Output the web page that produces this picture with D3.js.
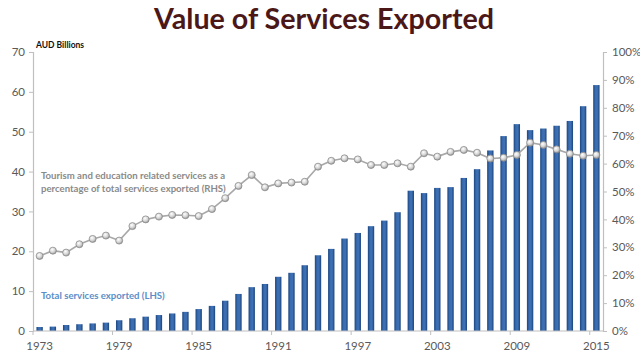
<!DOCTYPE html>
<html><head><meta charset="utf-8">
<script src="https://cdn.jsdelivr.net/npm/d3@7"></script>
<style>
html,body{margin:0;padding:0;background:#fff;}
svg{display:block;}
text{font-family:Lato,"Open Sans",sans-serif;}
</style></head>
<body>
<svg id="chart" width="640" height="357"></svg>
<script>
const years = d3.range(1973, 2016);
const servicesExported = [1.0,1.1,1.5,1.7,1.9,2.1,2.7,3.2,3.6,4.0,4.4,4.8,5.5,6.3,7.6,9.3,11.0,11.8,13.6,14.6,16.5,19.0,20.6,23.2,24.6,26.3,27.7,29.8,35.2,34.6,35.9,36.1,38.4,40.6,45.3,48.9,51.9,50.4,50.8,51.5,52.7,56.4,61.7];
const tourismEduPct = [26.9,28.8,28.1,31.1,33.0,34.2,32.4,37.6,40.0,41.0,41.6,41.5,41.2,43.7,47.6,52.0,55.9,51.5,52.9,53.2,53.5,58.9,61.0,61.9,61.5,59.5,59.5,60.1,58.9,63.7,62.5,64.2,64.9,63.9,61.8,62.1,63.1,67.5,66.7,65.1,63.5,62.8,63.1];
const leftTicks = [0,10,20,30,40,50,60,70];
const rightTicks = [0,10,20,30,40,50,60,70,80,90,100];
const xLabelYears = [1973,1979,1985,1991,1997,2003,2009,2015];

const svg = d3.select("#chart");
const L = 33, R = 603, T = 52, B = 331;

const defs = svg.append("defs");
const g1 = defs.append("linearGradient").attr("id","barGrad").attr("x1","0").attr("x2","1").attr("y1","0").attr("y2","0");
[["0%","#1b4680"],["35%","#3a6cb0"],["65%","#3d70b4"],["100%","#1a4279"]].forEach(s=>g1.append("stop").attr("offset",s[0]).attr("stop-color",s[1]));
const g2 = defs.append("radialGradient").attr("id","mkGrad").attr("cx","40%").attr("cy","35%").attr("r","65%");
[["0%","#ffffff"],["60%","#d4d4d4"],["100%","#9a9a9a"]].forEach(s=>g2.append("stop").attr("offset",s[0]).attr("stop-color",s[1]));

const x = d3.scaleBand().domain(years).range([L, R]).paddingInner(0.52).paddingOuter(0.26);
const yL = d3.scaleLinear().domain([0,70]).range([B, T]);
const yR = d3.scaleLinear().domain([0,100]).range([B, T]);

// Title
svg.append("text").attr("x",324).attr("y",29).attr("text-anchor","middle")
  .attr("font-size",29).attr("font-weight","bold").attr("fill","#4b1717")
  .attr("textLength",340).attr("lengthAdjust","spacingAndGlyphs")
  .text("Value of Services Exported");

svg.append("text").attr("x",36).attr("y",48).attr("font-size",8.5).attr("font-weight","bold").attr("fill","#111").text("AUD Billions");

// Left axis
const axL = svg.append("g").attr("transform",`translate(${L},0)`)
  .call(d3.axisLeft(yL).tickValues(leftTicks).tickSize(4).tickPadding(4));
// Right axis
const axR = svg.append("g").attr("transform",`translate(${R},0)`)
  .call(d3.axisRight(yR).tickValues(rightTicks).tickSize(4).tickPadding(5).tickFormat(d=>d+"%"));
[axL,axR].forEach(a=>{
  a.select(".domain").attr("stroke","#bfbfbf").attr("stroke-width",1.2);
  a.selectAll(".tick line").attr("stroke","#bfbfbf");
  a.selectAll(".tick text").attr("fill","#595959").attr("font-size",11.5).style("font-family","Lato,'Open Sans',sans-serif");
});

// Bars
svg.append("g").selectAll("rect").data(years).join("rect")
  .attr("x",d=>x(d)).attr("width",x.bandwidth())
  .attr("y",(d,i)=>yL(servicesExported[i]))
  .attr("height",(d,i)=>B - yL(servicesExported[i]))
  .attr("fill","url(#barGrad)");

// Bottom axis
svg.append("line").attr("x1",L).attr("x2",R).attr("y1",B).attr("y2",B).attr("stroke","#bfbfbf").attr("stroke-width",1.2);
const step = x.step();
svg.append("g").selectAll("line").data(xLabelYears).join("line")
  .attr("x1",d=>x(d) - (step - x.bandwidth())/2).attr("x2",d=>x(d) - (step - x.bandwidth())/2)
  .attr("y1",B).attr("y2",B+4).attr("stroke","#bfbfbf");
svg.append("g").selectAll("text").data(xLabelYears).join("text")
  .attr("x",d=>x(d)+x.bandwidth()/2).attr("y",350).attr("text-anchor","middle")
  .attr("font-size",11.5).attr("fill","#595959").text(d=>d);

// Line
const line = d3.line().x((d,i)=>x(years[i])+x.bandwidth()/2).y(d=>yR(d));
svg.append("path").datum(tourismEduPct).attr("d",line).attr("fill","none").attr("stroke","#a8a8a8").attr("stroke-width",1.6);
svg.append("g").selectAll("circle").data(tourismEduPct).join("circle")
  .attr("cx",(d,i)=>x(years[i])+x.bandwidth()/2).attr("cy",d=>yR(d)).attr("r",3.5)
  .attr("fill","url(#mkGrad)").attr("stroke","#8c8c8c").attr("stroke-width",0.8);

// Annotations
const ann = svg.append("text").attr("x",41).attr("y",179).attr("font-size",9.6).attr("font-weight","bold").attr("fill","#8a8a8a");
ann.append("tspan").attr("x",41).attr("dy",0).text("Tourism and education related services as a");
ann.append("tspan").attr("x",41).attr("dy",13).text("percentage of total services exported (RHS)");
svg.append("text").attr("x",41).attr("y",299).attr("font-size",9.6).attr("font-weight","bold").attr("fill","#5b8ec8").text("Total services exported (LHS)");
</script>
</body></html>
